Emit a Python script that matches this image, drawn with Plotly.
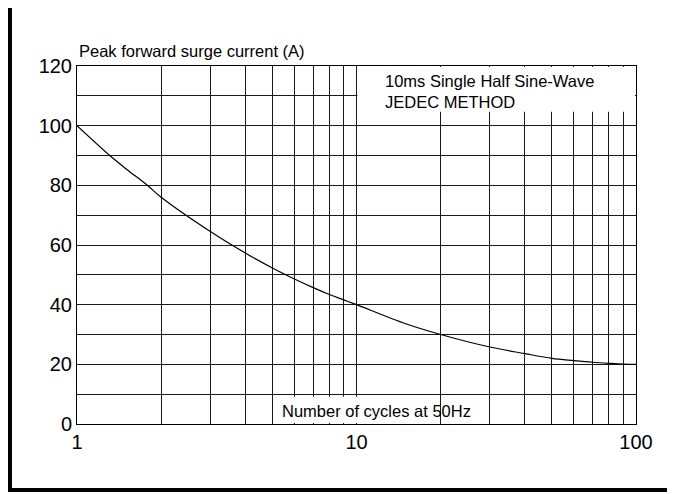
import plotly.graph_objects as go

# Data
cycles = [1, 1.31, 1.5, 1.78, 2, 3, 4, 5, 6, 7, 8, 9, 10, 15, 20, 30, 40, 50, 60, 70, 80, 90, 100]
current = [100, 90, 85.5, 80.1, 76.0, 64.5, 57.3, 52.3, 48.6, 45.7, 43.4, 41.6, 40, 33.6, 30, 25.8, 23.6, 22.0, 21.25, 20.7, 20.35, 20.1, 20.0]

x_tickvals = [1, 2, 3, 4, 5, 6, 7, 8, 9, 10, 20, 30, 40, 50, 60, 70, 80, 90, 100]
x_ticktext = ["1", "", "", "", "", "", "", "", "", "10", "", "", "", "", "", "", "", "", "100"]
y_tickvals = [0, 10, 20, 30, 40, 50, 60, 70, 80, 90, 100, 110, 120]
y_ticktext = ["0", "", "20", "", "40", "", "60", "", "80", "", "100", "", "120"]

y_title = "Peak forward surge current (A)"
x_title = "Number of cycles at 50Hz"
note = "10ms Single Half Sine-Wave<br>JEDEC METHOD"

FONT = "Arial, Liberation Sans, sans-serif"

fig = go.Figure()
fig.add_trace(go.Scatter(
    x=cycles, y=current, mode="lines",
    line=dict(color="black", width=1.2, shape="spline", smoothing=1.0),
    showlegend=False, hoverinfo="skip",
))

grid_col = "#1a1a1a"
fig.update_xaxes(
    type="log", range=[0, 2],
    tickvals=x_tickvals, ticktext=x_ticktext,
    showgrid=True, gridcolor=grid_col, gridwidth=1,
    showline=True, mirror=True, linecolor="black", linewidth=1,
    ticks="", zeroline=False,
    tickfont=dict(family=FONT, size=20, color="black"),
)
fig.update_yaxes(
    range=[0, 120],
    tickvals=y_tickvals, ticktext=y_ticktext,
    showgrid=True, gridcolor=grid_col, gridwidth=1,
    showline=True, mirror=True, linecolor="black", linewidth=1,
    ticks="", zeroline=False,
    tickfont=dict(family=FONT, size=20, color="black"),
)

shapes = [
    # white boxes hiding the grid behind the texts (inset so the frame stays visible)
    dict(type="rect", xref="paper", yref="paper", x0=0.5017, x1=0.998, y0=0.8725, y1=0.997,
         fillcolor="white", line=dict(width=0), layer="above"),
    dict(type="rect", xref="paper", yref="paper", x0=0.37, x1=0.62, y0=0.003, y1=0.076,
         fillcolor="white", line=dict(width=0), layer="above"),
    # outer frame (left and bottom)
    dict(type="line", xref="paper", yref="paper", x0=-0.1199, x1=-0.1199, y0=1.19, y1=-0.19,
         line=dict(color="black", width=4)),
    dict(type="line", xref="paper", yref="paper", x0=-0.123, x1=1.08, y0=-0.1844, y1=-0.1844,
         line=dict(color="black", width=4)),
]

annotations = [
    dict(text=y_title, xref="paper", yref="paper", x=0, y=1, xanchor="left", yanchor="middle",
         yshift=15, showarrow=False, font=dict(family=FONT, size=16.5, color="black")),
    dict(text=note, xref="x", yref="y", x=1.095, y=111.6, xanchor="left", yanchor="middle",
         align="left", showarrow=False, font=dict(family=FONT, size=16.5, color="black")),
    dict(text=x_title, xref="x", yref="y", x=0.725, y=4.2, xanchor="left", yanchor="middle",
         showarrow=False, font=dict(family=FONT, size=16.5, color="black")),
]

fig.update_layout(
    width=667, height=486,
    margin=dict(l=69, r=39, t=58, b=70),
    paper_bgcolor="white", plot_bgcolor="white",
    shapes=shapes, annotations=annotations,
    font=dict(family=FONT, color="black"),
)

fig.write_html("out.html")
